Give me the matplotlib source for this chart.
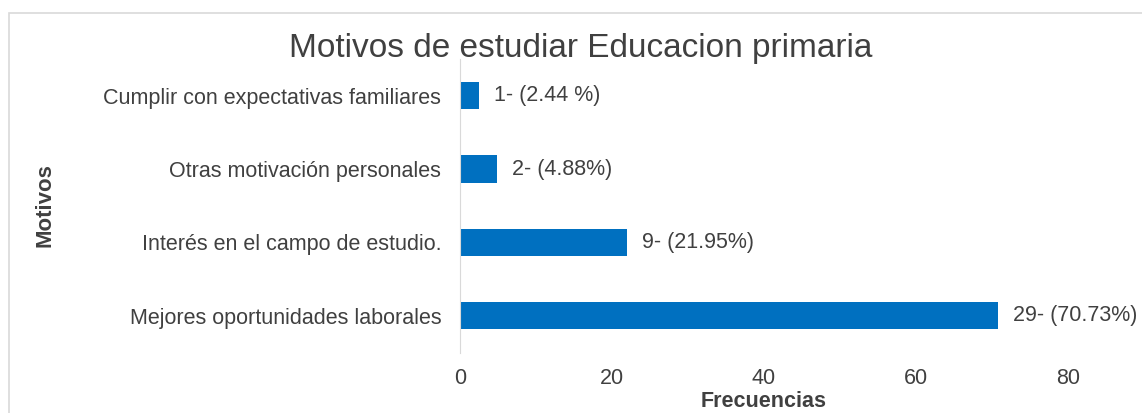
import matplotlib.pyplot as plt
from matplotlib.patches import Rectangle

plt.rcParams['font.family'] = ['Liberation Sans', 'DejaVu Sans']

# datos
motivos = ["Mejores oportunidades laborales", "Interés en el campo de estudio.",
           "Otras motivación personales", "Cumplir con expectativas familiares"]
frecuencias = [29, 9, 2, 1]
porcentajes = [70.73, 21.95, 4.88, 2.44]
etiquetas = ["29- (70.73%)", "9- (21.95%)", "2- (4.88%)", "1- (2.44 %)"]
xticks = [0, 20, 40, 60, 80]

texto = "#404040"
azul = "#0070C0"

fig = plt.figure(figsize=(11.42, 4.13), dpi=100, facecolor="white")
# marco exterior del gráfico
fig.patches.append(Rectangle((9 / 1142, -0.1), 1.2, 1 - 13 / 413 + 0.1,
                             transform=fig.transFigure, fill=False,
                             edgecolor="#D9D9D9", lw=1.2))

ax = fig.add_axes([460 / 1142, 1 - 352.5 / 413, 682 / 1142, 293.5 / 413])
y = range(len(motivos))
bars = ax.barh(y, porcentajes, height=0.37, color=azul)

for b, lab in zip(bars, etiquetas):
    ax.annotate(lab, (b.get_width(), b.get_y() + b.get_height() / 2),
                xytext=(11, 0), textcoords="offset points",
                va="center", ha="left", fontsize=15.5, color=texto,
                annotation_clip=False)

ax.set_xlim(0, 89.74)
ax.set_ylim(-0.5, 3.5)
ax.set_yticks(list(y))
ax.set_yticklabels(motivos)
ax.set_xticks(xticks)
ax.tick_params(axis="y", length=0, pad=13.5, labelsize=15.5, labelcolor=texto)
ax.tick_params(axis="x", length=0, pad=11.5, labelsize=15.5, labelcolor=texto)

for s in ["top", "right", "bottom"]:
    ax.spines[s].set_visible(False)
ax.spines["left"].set_color("#D9D9D9")

ax.set_xlabel("Frecuencias", fontsize=15.5, fontweight="bold", color=texto)
ax.xaxis.set_label_coords((764 - 460) / 682, -(401.5 - 352.5) / 293.5)
ax.set_ylabel("Motivos", fontsize=16, fontweight="bold", color=texto)
ax.yaxis.set_label_coords(-(460 - 45) / 682, (352.5 - 205) / 293.5)
ax.xaxis.label.set_va("center")
ax.yaxis.label.set_va("center")

fig.text(581 / 1142, 1 - 48 / 413, "Motivos de estudiar Educacion primaria",
         ha="center", va="center", fontsize=24, color=texto)

fig.savefig("out.png", dpi=100)
